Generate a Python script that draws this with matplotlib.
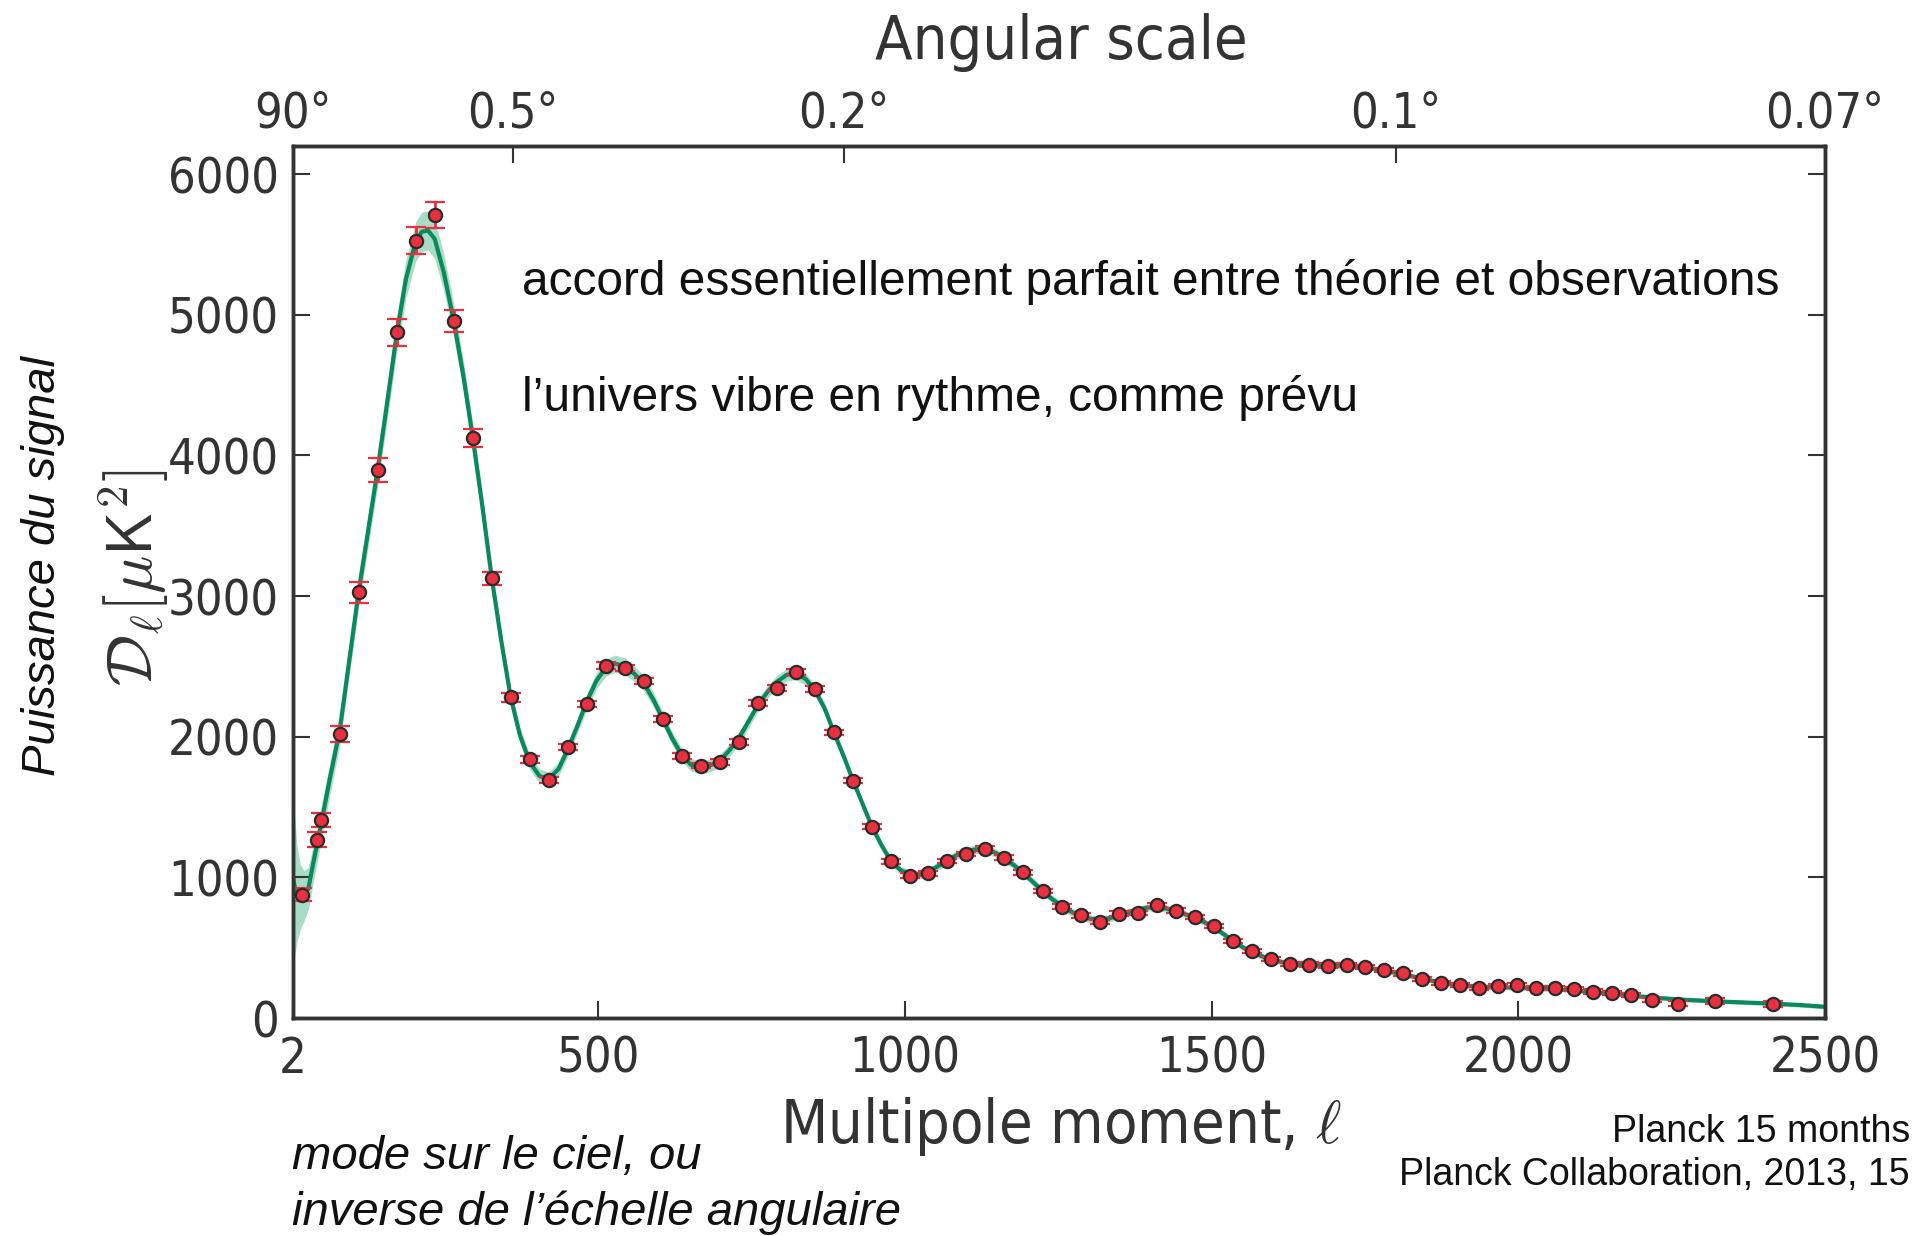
import matplotlib
matplotlib.use("Agg")
import matplotlib.pyplot as plt
from matplotlib import font_manager as fm
from matplotlib.font_manager import FontProperties

plt.rcParams['mathtext.fontset'] = 'cm'

# ---- binned Planck band powers ----
data_l = [16, 41, 47, 78, 109, 140, 171, 202, 233, 264,
          295, 326, 357, 388, 419, 450, 481, 512, 543, 574,
          605, 636, 667, 698, 729, 760, 791, 822, 853, 884,
          915, 946, 977, 1008, 1038, 1069, 1100, 1131, 1162, 1193,
          1225, 1256, 1287, 1318, 1349, 1380, 1410, 1441, 1472, 1503,
          1534, 1565, 1596, 1627, 1658, 1689, 1720, 1750, 1781, 1812,
          1843, 1874, 1905, 1936, 1967, 1998, 2029, 2059, 2090, 2121,
          2152, 2183, 2218, 2261, 2320, 2416]
data_D = [876, 1268, 1410, 2017, 3028, 3897, 4875, 5526, 5707, 4957,
          4124, 3125, 2282, 1838, 1693, 1924, 2230, 2506, 2487, 2397,
          2125, 1865, 1794, 1822, 1963, 2238, 2345, 2461, 2340, 2030,
          1686, 1359, 1114, 1013, 1029, 1116, 1166, 1203, 1139, 1037,
          903, 791, 730, 682, 743, 745, 802, 764, 718, 655,
          548, 475, 418, 384, 380, 373, 375, 364, 341, 317,
          276, 249, 236, 215, 225, 232, 212, 216, 208, 188,
          176, 162, 128, 102, 121, 101]
data_err = [45, 55, 50, 58, 74, 88, 97, 97, 93, 78,
            62, 45, 32, 25, 22, 22, 22, 22, 22, 22,
            20, 20, 20, 20, 20, 20, 20, 20, 20, 20,
            18, 18, 18, 18, 17, 17, 17, 17, 17, 17,
            16, 16, 16, 16, 16, 16, 16, 16, 16, 16,
            15, 15, 15, 15, 15, 15, 15, 15, 15, 15,
            15, 15, 15, 15, 15, 15, 15, 15, 15, 15,
            15, 15, 16, 18, 20, 22]

# ---- best-fit model spectrum and its uncertainty band ----
model_l = [2, 5, 9, 14, 20, 27, 35, 47, 62, 78,
           93, 109, 125, 140, 156, 171, 186, 202, 212, 222,
           233, 248, 264, 280, 295, 311, 326, 342, 357, 372,
           388, 404, 419, 435, 450, 466, 481, 497, 512, 527,
           543, 558, 574, 590, 605, 620, 636, 651, 667, 682,
           698, 713, 729, 745, 760, 776, 791, 807, 822, 838,
           853, 869, 884, 900, 915, 931, 946, 962, 977, 993,
           1008, 1023, 1038, 1054, 1069, 1085, 1100, 1116, 1131, 1147,
           1162, 1178, 1193, 1209, 1225, 1240, 1256, 1271, 1287, 1302,
           1318, 1334, 1349, 1365, 1380, 1395, 1410, 1426, 1441, 1457,
           1472, 1488, 1503, 1519, 1534, 1550, 1565, 1596, 1627, 1658,
           1689, 1720, 1750, 1781, 1812, 1843, 1874, 1905, 1936, 1967,
           1998, 2029, 2059, 2090, 2121, 2152, 2183, 2218, 2261, 2320,
           2416, 2460, 2500]
model_D = [1000, 930, 880, 860, 870, 920, 1100, 1360, 1700, 2040,
           2520, 3030, 3480, 3900, 4390, 4860, 5250, 5520, 5590, 5600,
           5540, 5300, 4960, 4560, 4130, 3630, 3130, 2670, 2280, 2010,
           1820, 1720, 1700, 1770, 1910, 2080, 2250, 2400, 2490, 2520,
           2500, 2450, 2380, 2260, 2125, 1990, 1870, 1800, 1780, 1795,
           1830, 1900, 1990, 2110, 2225, 2320, 2390, 2440, 2450, 2410,
           2330, 2200, 2030, 1860, 1690, 1520, 1360, 1225, 1115, 1050,
           1020, 1020, 1040, 1080, 1120, 1160, 1185, 1200, 1200, 1175,
           1135, 1085, 1030, 965, 900, 845, 795, 755, 725, 705,
           700, 710, 730, 755, 772, 785, 788, 778, 760, 738,
           712, 682, 645, 598, 550, 505, 468, 415, 387, 378,
           373, 369, 360, 338, 312, 280, 252, 234, 222, 219,
           216, 211, 205, 196, 186, 174, 160, 146, 132, 119,
           102, 92, 80]
model_band = [680, 480, 330, 230, 180, 150, 135, 125, 115, 110,
              110, 110, 115, 120, 125, 130, 135, 140, 140, 140,
              140, 130, 120, 110, 100, 90, 80, 70, 62, 56,
              52, 50, 50, 50, 50, 52, 55, 58, 60, 60,
              60, 56, 54, 50, 48, 46, 45, 45, 45, 45,
              45, 45, 45, 45, 45, 45, 45, 45, 45, 43,
              40, 38, 36, 34, 32, 30, 30, 30, 30, 30,
              30, 30, 30, 30, 30, 30, 30, 30, 30, 30,
              28, 28, 28, 28, 28, 28, 28, 28, 28, 28,
              25, 25, 25, 25, 25, 25, 25, 25, 25, 25,
              22, 22, 22, 22, 22, 22, 22, 22, 22, 22,
              18, 18, 18, 18, 18, 18, 18, 18, 18, 18,
              15, 15, 15, 15, 15, 15, 15, 15, 15, 15,
              15, 15, 15]

# ---- axis ticks ----
x_ticks = [2, 500, 1000, 1500, 2000, 2500]
y_ticks = [0, 1000, 2000, 3000, 4000, 5000, 6000]
angle_ticks_l = [2, 360, 900, 1800, 2500]
angle_labels = ['90°', '0.5°', '0.2°', '0.1°', '0.07°']

# ---- fonts ----
names = {f.name for f in fm.fontManager.ttflist}
if 'Liberation Sans Narrow' in names:
    _narrow = FontProperties(family='Liberation Sans Narrow')
else:
    _narrow = FontProperties(family='DejaVu Sans', stretch='condensed')


def narrow(size):
    fp = _narrow.copy()
    fp.set_size(size)
    return fp


TXT = '#333333'
INK = '#111111'
W, H = 1930, 1236

fig = plt.figure(figsize=(W / 100, H / 100), dpi=100)
ax = fig.add_axes([293 / W, 1 - 1018 / H, (1825 - 293) / W, (1018 - 146) / H])

lo = [d - b for d, b in zip(model_D, model_band)]
hi = [d + b for d, b in zip(model_D, model_band)]
ax.fill_between(model_l, lo, hi, color='#a8dcc7', lw=0, zorder=1)
ax.plot(model_l, model_D, color='#0a8a5c', lw=3.0, zorder=2)
ax.errorbar(data_l, data_D, yerr=data_err, fmt='o', ms=9.5,
            mfc='#e8303f', mec='#2b2b2b', mew=1.6,
            ecolor='#e8303f', elinewidth=2, capsize=7, capthick=2,
            zorder=3)

ax.set_xlim(2, 2500)
ax.set_ylim(0, 6200)
ax.set_xticks(x_ticks)
ax.set_xticklabels([str(v) for v in x_ticks])
ax.set_yticks(y_ticks)
ax.set_yticklabels([str(v) for v in y_ticks])
ax.tick_params(direction='in', length=12, width=1.5, colors=TXT,
               right=True, labelright=False, top=False)
ax.tick_params(axis='x', pad=12)
ax.tick_params(axis='y', pad=10)
for lab in ax.get_xticklabels() + ax.get_yticklabels():
    lab.set_fontproperties(narrow(35))
    lab.set_color(TXT)
for sp in ax.spines.values():
    sp.set_linewidth(2.5)
    sp.set_color(TXT)

# angular scale along the top
ax2 = ax.twiny()
ax2.set_xlim(ax.get_xlim())
ax2.set_xticks(angle_ticks_l)
ax2.set_xticklabels(angle_labels)
ax2.tick_params(direction='in', length=12, width=1.5, colors=TXT, pad=6)
for lab in ax2.get_xticklabels():
    lab.set_fontproperties(narrow(35))
    lab.set_color(TXT)
for sp in ax2.spines.values():
    sp.set_linewidth(2.5)
    sp.set_color(TXT)

fig.text(1061 / W, 1 - 43 / H, 'Angular scale', fontproperties=narrow(44),
         color=TXT, ha='center', va='center')
fig.text(1061 / W, 1 - 1126 / H, 'Multipole moment, $\\ell$',
         fontproperties=narrow(44), color=TXT, ha='center', va='center')
fig.text(134 / W, 1 - 578 / H, r'$\mathcal{D}_{\ell}[\mu\mathsf{K}^2]$',
         fontsize=46, color=TXT, rotation=90, ha='center', va='center')
fig.text(43 / W, 1 - 566 / H, 'Puissance du signal', family='Liberation Sans',
         style='italic', fontsize=34, color=INK, rotation=90,
         ha='center', va='center')

fig.text(522 / W, 1 - 295 / H,
         'accord essentiellement parfait entre théorie et observations',
         family='Liberation Sans', fontsize=34.5, color=INK,
         ha='left', va='baseline')
fig.text(522 / W, 1 - 411 / H, 'l’univers vibre en rythme, comme prévu',
         family='Liberation Sans', fontsize=34.5, color=INK,
         ha='left', va='baseline')

fig.text(292 / W, 1 - 1169 / H, 'mode sur le ciel, ou',
         family='Liberation Sans', style='italic', fontsize=34,
         color=INK, ha='left', va='baseline')
fig.text(292 / W, 1 - 1225 / H, 'inverse de l’échelle angulaire',
         family='Liberation Sans', style='italic', fontsize=34,
         color=INK, ha='left', va='baseline')

fig.text(1910 / W, 1 - 1142 / H, 'Planck 15 months',
         family='Liberation Sans', fontsize=27, color=INK,
         ha='right', va='baseline')
fig.text(1910 / W, 1 - 1185 / H, 'Planck Collaboration, 2013, 15',
         family='Liberation Sans', fontsize=27, color=INK,
         ha='right', va='baseline')

fig.savefig('out.png', dpi=100)
